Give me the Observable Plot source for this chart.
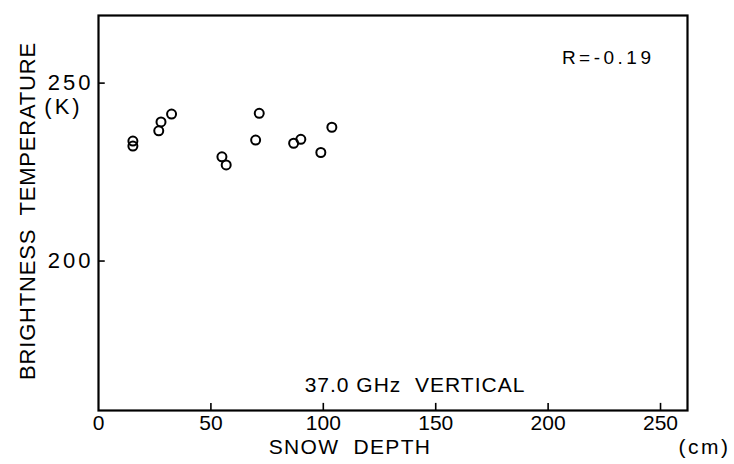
<!DOCTYPE html>
<html>
<head>
<meta charset="utf-8">
<script src="https://cdn.jsdelivr.net/npm/d3@7"></script>
<script src="https://cdn.jsdelivr.net/npm/@observablehq/plot@0.6"></script>
<style>
  html, body { margin: 0; padding: 0; background: #fff; }
  svg { display: block; }
</style>
</head>
<body>
<div id="chart"></div>
<script>
// Snow depth (cm) and 37.0 GHz vertical brightness temperature (K)
const snowDepth = [15.3, 15.3, 26.8, 27.8, 32.5, 54.9, 56.8, 69.9, 71.5, 86.8, 90.0, 98.9, 103.8];
const brightnessTemp = [233.7, 232.3, 236.6, 239.1, 241.3, 229.3, 227.0, 234.0, 241.5, 233.1, 234.2, 230.5, 237.6];
const xTicks = [0, 50, 100, 150, 200, 250];
const yTicks = [200, 250];
const xDomain = [0, 262];
const yDomain = [158, 269];
const annotation = "R=-0.19";
const panelTitle = "37.0 GHz  VERTICAL";
const xLabel = "SNOW  DEPTH";
const xUnit = "(cm)";
const yLabel = "BRIGHTNESS  TEMPERATURE";
const yUnit = "(K)";

const points = snowDepth.map((x, i) => ({x, y: brightnessTemp[i]}));
const font = "Liberation Sans, DejaVu Sans, sans-serif";

const chart = Plot.plot({
  width: 734,
  height: 464,
  marginLeft: 98,
  marginRight: 47,
  marginTop: 15,
  marginBottom: 54,
  style: {fontFamily: font, fontSize: "20px", color: "#000", background: "#fff"},
  x: {domain: xDomain},
  y: {domain: yDomain},
  marks: [
    Plot.frame({stroke: "#000", strokeWidth: 2.2}),
    Plot.axisX({ticks: xTicks, tickSize: 0, tickPadding: 5, label: null, fontSize: 21, tickFormat: d => String(d)}),
    Plot.axisY({ticks: yTicks, tickSize: 0, tickPadding: 5, label: null, fontSize: 22, tickFormat: d => String(d)}),
    Plot.ruleX(xTicks.slice(1), {x: d => d, y1: yDomain[0], y2: yDomain[0] + 2, stroke: "#000", strokeWidth: 1.6}),
    Plot.ruleY(yTicks, {y: d => d, x1: 0, x2: 3, stroke: "#000", strokeWidth: 1.6}),
    Plot.dot(points, {x: "x", y: "y", r: 4.5, stroke: "#000", strokeWidth: 2, fill: "none"}),
    Plot.text([annotation], {frameAnchor: "top-right", dx: -33, dy: 35, text: d => d, fontSize: 19, fill: "#000", textAnchor: "end"}),
    Plot.text([panelTitle], {frameAnchor: "bottom", dx: 22, dy: -19, text: d => d, fontSize: 21, fill: "#000", textAnchor: "middle"}),
    Plot.text([xLabel], {frameAnchor: "bottom", dx: -43, dy: 43, text: d => d, fontSize: 21, fill: "#000", textAnchor: "middle"}),
    Plot.text([xUnit], {frameAnchor: "bottom-right", dx: 43, dy: 43, text: d => d, fontSize: 21, fill: "#000", textAnchor: "end"}),
    Plot.text([yLabel], {frameAnchor: "left", dx: -71, dy: -2, rotate: -90, text: d => d, fontSize: 22, fill: "#000", textAnchor: "middle"}),
    Plot.text([yUnit], {frameAnchor: "top-left", dx: -35, dy: 83, text: d => d, fontSize: 22, fill: "#000", textAnchor: "middle"})
  ]
});
const spacing = {[annotation]: "3.5px", [panelTitle]: "1px", [xLabel]: "1.3px", [xUnit]: "2.5px", [yLabel]: "0.8px", [yUnit]: "3px"};
chart.querySelectorAll("text").forEach(t => {
  t.setAttribute("xml:space", "preserve");
  t.style.whiteSpace = "pre";
  const s = spacing[t.textContent];
  if (s) t.style.letterSpacing = s;
});
chart.querySelectorAll('g[aria-label="y-axis tick label"] text').forEach(t => { t.style.letterSpacing = "3px"; });
document.getElementById("chart").appendChild(chart);
</script>
</body>
</html>
